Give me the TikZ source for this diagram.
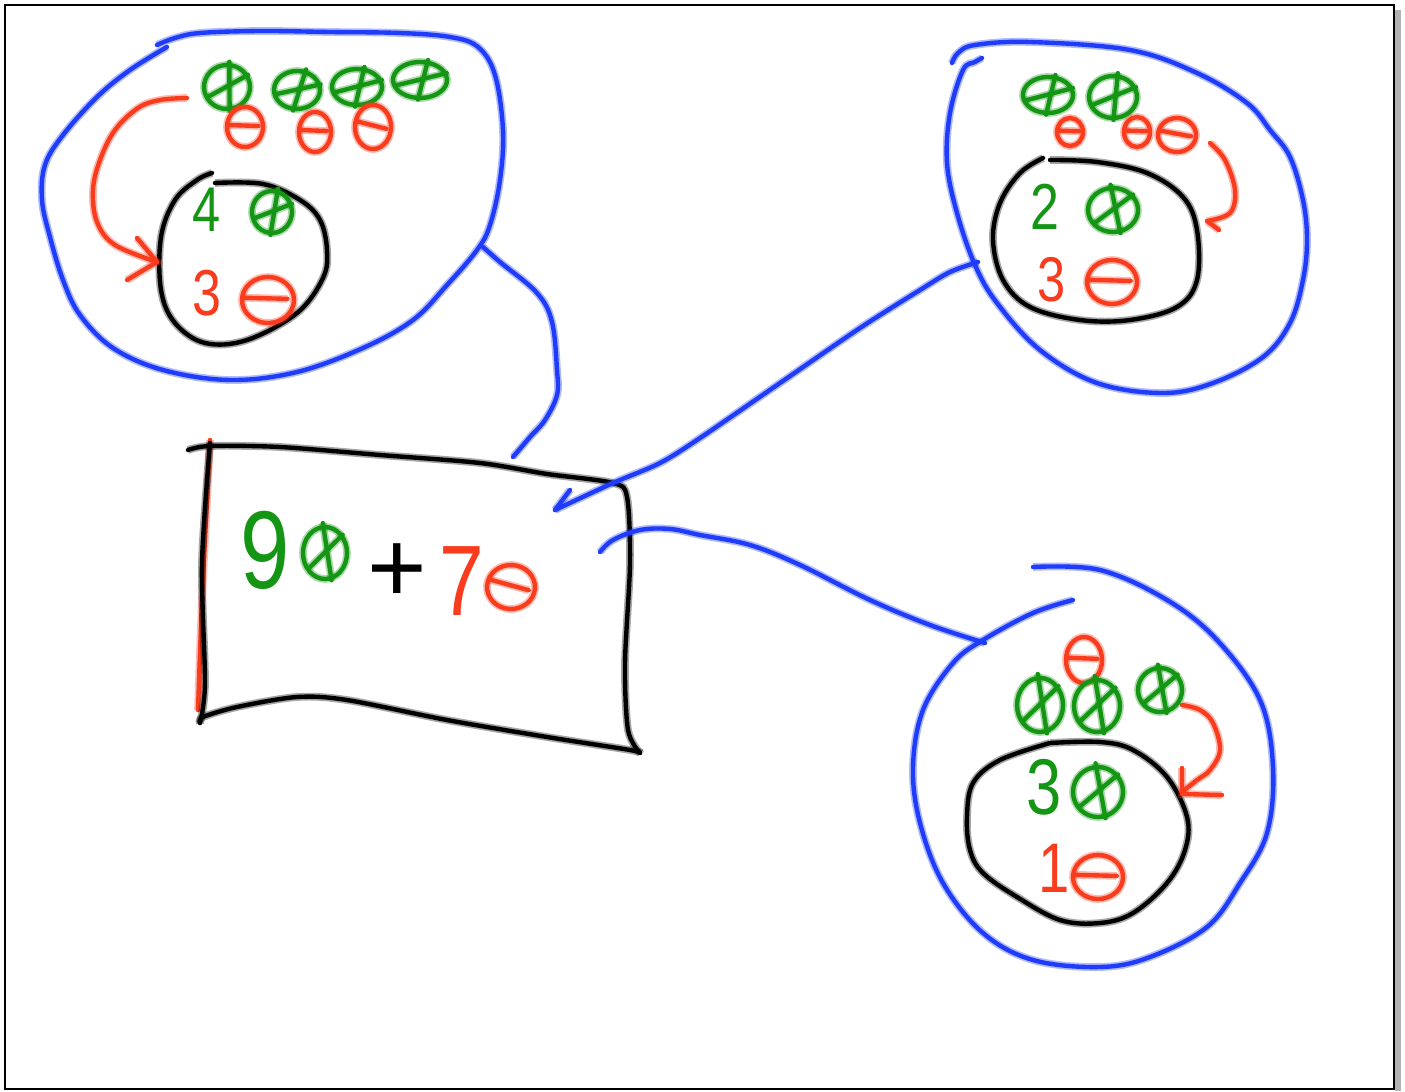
\documentclass[tikz,border=0pt]{standalone}
\usepackage{fontspec}
\newfontfamily\hand{Liberation Sans}
\definecolor{bl}{RGB}{30,60,250}
\definecolor{gr}{RGB}{20,150,20}
\definecolor{rd}{RGB}{250,60,30}
\tikzset{
  pen/.style={draw=#1, line cap=round, line join=round, line width=2.5pt,
    preaction={draw=#1, line width=4.4pt, opacity=0.35}},
  pen/.default=black,
  gx/.pic={
    \draw[pen=gr] (0,0) circle (1);
    \draw[pen=gr] (-0.1,-1.15) -- (0.3,1.05);
    \draw[pen=gr] (-0.75,0.6) -- (0.8,-0.7);
  },
  rm/.pic={
    \draw[pen=rd] (0,0) circle (1);
    \draw[pen=rd] (-0.95,-0.1) -- (0.75,-0.05);
  },
  digit/.style={inner sep=0pt, font=\hand, transform shape, xscale=0.8},
}
\begin{document}
\begin{tikzpicture}[x=0.02cm, y=-0.02cm]
\useasboundingbox (0,0) rectangle (1405,1091);
% frame
\fill[gray!60] (1395,10) rectangle (1401,1091);
\draw[line width=1.5pt] (5,5) rectangle (1394,1089);

% ---------- top-left blob ----------
\draw[pen=bl] plot[smooth, tension=0.6] coordinates {(157,45) (175,38) (200,33) (260,31) (330,32) (400,33) (450,37) (478,47) (495,75) (503,130) (500,180) (490,225) (477,250) (447,285) (413,320) (363,348) (297,372) (230,380) (163,370) (113,348) (80,315) (63,280) (50,237) (42,200) (45,165) (63,135) (97,97) (130,70) (167,47)};
\draw[pen] plot[smooth, tension=0.6] coordinates {(215,183) (263,184) (300,200) (320,220) (327,250) (323,278) (297,313) (247,340) (205,343) (175,323) (161,290) (161,237) (175,200) (197,180) (212,173)};
\draw[pen=rd] plot[smooth, tension=0.6] coordinates {(187,98) (160,100) (138,108) (115,130) (100,160) (93,190) (97,222) (115,245) (157,262)};
\draw[pen=rd] (137,238) -- (157,262) -- (127,280);
\pic[xscale=23, yscale=22, rotate=-10] at (227,87) {gx};
\pic[xscale=23, yscale=19, rotate=-25] at (297,90) {gx};
\pic[xscale=25, yscale=18, rotate=-20] at (357,87) {gx};
\pic[xscale=27, yscale=18, rotate=-20] at (420,80) {gx};
\pic[xscale=18, yscale=20] at (245,127) {rm};
\pic[xscale=16, yscale=20] at (315,132) {rm};
\pic[xscale=18, yscale=22, rotate=-10] at (373,127) {rm};
\node[digit, gr, font=\hand\fontsize{36}{40}\selectfont] (t4) at (207,210) {4};
\pic[xscale=20, yscale=21, rotate=-20] at (272,212) {gx};
\node[digit, rd, font=\hand\fontsize{37}{40}\selectfont] (t3) at (207,293) {3};
\pic[xscale=26, yscale=23] at (268,300) {rm};
\coordinate (tlc) at (483,247);

% ---------- box ----------
\draw[pen=rd] plot[smooth] coordinates {(210,440) (207,500) (202,600) (198,710)};
\draw[pen] plot[smooth, tension=0.5] coordinates {(188,450) (210,446) (280,447) (380,455) (480,463) (547,474) (613,483) (627,497) (630,563) (625,663) (628,730) (640,753)};
\draw[pen] plot[smooth, tension=0.5] coordinates {(640,753) (630,750) (547,737) (447,720) (347,700) (297,697) (237,707) (203,717) (200,723)};
\draw[pen] plot[smooth, tension=0.5] coordinates {(200,723) (205,683) (202,563) (210,443)};
\coordinate (bxt) at (513,457);
\coordinate (bxr) at (555,510);
\coordinate (bxb) at (600,552);
\node[digit, gr, font=\hand\fontsize{63}{70}\selectfont] (n9) at (265,550) {9};
\pic[xscale=22, yscale=26] at (325,553) {gx};
\node[inner sep=0pt, font=\hand\fontsize{58}{64}\selectfont] (plus) at (397,573) {+};
\node[digit, rd, font=\hand\fontsize{57}{64}\selectfont] (n7) at (462,581) {7};
\pic[xscale=24, yscale=22, rotate=-15] at (511,587) {rm};

% ---------- connectors ----------
\draw[pen=bl] plot[smooth, tension=0.6] coordinates {(tlc) (500,262) (537,293) (552,322) (557,370) (557,395) (545,420) (530,437) (bxt)};
\coordinate (trc) at (978,262);
\draw[pen=bl] (570,490) -- (bxr);
\draw[pen=bl] plot[smooth, tension=0.5] coordinates {(bxr) (613,483) (660,463) (700,438) (780,383) (860,328) (920,290) (950,272) (trc)};
\coordinate (brc) at (985,643);
\draw[pen=bl] plot[smooth, tension=0.6] coordinates {(bxb) (613,540) (640,530) (670,529) (700,535) (750,545) (800,565) (870,600) (930,625) (brc)};

% ---------- top-right blob ----------
\draw[pen=bl] plot[smooth, tension=0.6] coordinates {(952,63) (958,53) (975,45) (1030,42) (1130,50) (1197,73) (1247,103) (1270,130) (1290,157) (1303,200) (1307,240) (1303,280) (1290,323) (1263,357) (1213,383) (1163,393) (1097,383) (1040,350) (997,303) (975,265) (957,213) (947,163) (950,113) (963,70) (975,62) (982,58)};
\draw[pen] plot[smooth, tension=0.6] coordinates {(1050,160) (1097,162) (1147,173) (1183,197) (1197,230) (1197,280) (1177,307) (1130,320) (1080,320) (1030,307) (1003,280) (993,240) (1000,203) (1020,173) (1043,158)};
\draw[pen=rd] plot[smooth, tension=0.6] coordinates {(1210,143) (1225,160) (1235,190) (1230,213) (1207,221)};
\draw[pen=rd] (1207,221) -- (1219,230);
\pic[xscale=25, yscale=18, rotate=-20] at (1048,95) {gx};
\pic[xscale=24, yscale=21, rotate=-15] at (1113,97) {gx};
\pic[xscale=13, yscale=14] at (1070,132) {rm};
\pic[xscale=13, yscale=15] at (1137,132) {rm};
\pic[xscale=19, yscale=17, rotate=-10] at (1177,135) {rm};
\node[digit, gr, font=\hand\fontsize{37}{40}\selectfont] (r2) at (1045,207) {2};
\pic[xscale=25, yscale=22] at (1113,210) {gx};
\node[digit, rd, font=\hand\fontsize{36}{40}\selectfont] (r3) at (1052,280) {3};
\pic[xscale=25, yscale=22] at (1112,282) {rm};

% ---------- bottom-right blob ----------
\draw[pen=bl] plot[smooth, tension=0.6] coordinates {(1033,567) (1100,570) (1167,600) (1217,640) (1260,700) (1273,767) (1267,833) (1240,883) (1207,927) (1150,957) (1100,967) (1033,960) (983,933) (943,883) (920,823) (913,767) (923,710) (953,663) (983,640) (1033,613) (1073,600)};
\draw[pen] plot[smooth, tension=0.6] coordinates {(1050,743) (1100,742) (1133,750) (1167,777) (1187,817) (1185,850) (1167,883) (1133,913) (1100,923) (1060,920) (1017,897) (983,873) (970,850) (967,817) (973,783) (1000,760) (1050,743)};
\draw[pen=rd] plot[smooth, tension=0.6] coordinates {(1182,705) (1200,710) (1213,723) (1220,750) (1210,770) (1197,780) (1182,792)};
\draw[pen=rd] (1182,768) -- (1182,794) -- (1222,795);
\pic[xscale=18, yscale=23] at (1084,660) {rm};
\pic[xscale=23, yscale=27] at (1040,705) {gx};
\pic[xscale=23, yscale=26] at (1097,706) {gx};
\pic[xscale=22, yscale=22] at (1160,690) {gx};
\node[digit, gr, font=\hand\fontsize{45}{50}\selectfont] (b3) at (1044,787) {3};
\pic[xscale=25, yscale=25] at (1098,792) {gx};
\node[digit, rd, font=\hand\fontsize{40}{44}\selectfont] (b1) at (1054,868) {1};
\pic[xscale=25, yscale=22] at (1098,877) {rm};
\end{tikzpicture}
\end{document}
